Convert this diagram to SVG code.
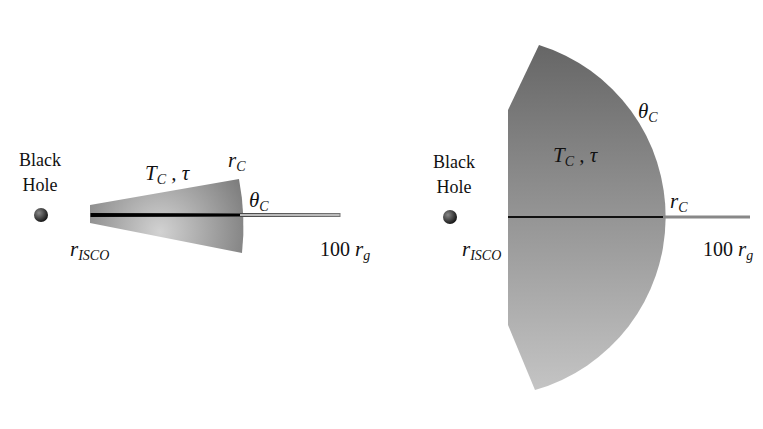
<svg xmlns="http://www.w3.org/2000/svg" width="763" height="429" viewBox="0 0 763 429">
<style>
text{font-family:"Liberation Serif","DejaVu Serif",serif;fill:#111}
.t{font-size:18px}
.m{font-size:21px;font-style:italic}
.s{font-size:14px;font-style:italic}
</style>
<defs>
<radialGradient id="rg" cx="160" cy="232" r="110" gradientUnits="userSpaceOnUse">
<stop offset="0" stop-color="#d2d2d2"/><stop offset="1" stop-color="#6e6e6e"/>
</radialGradient>
<linearGradient id="lg" x1="0" y1="45" x2="0" y2="390" gradientUnits="userSpaceOnUse">
<stop offset="0" stop-color="#666"/><stop offset="1" stop-color="#c4c4c4"/>
</linearGradient>
<linearGradient id="ln" x1="90" y1="0" x2="340" y2="0" gradientUnits="userSpaceOnUse">
<stop offset="0" stop-color="#000"/><stop offset="1" stop-color="#777"/>
</linearGradient>
<radialGradient id="bh" cx="0.35" cy="0.35" r="0.7"><stop offset="0" stop-color="#888"/><stop offset="1" stop-color="#111"/></radialGradient>
</defs>
<g id="left">
<circle cx="41" cy="215" r="7" fill="url(#bh)"/>
<text class="t" x="40" y="166" text-anchor="middle">Black</text>
<text class="t" x="40" y="191" text-anchor="middle">Hole</text>
<path d="M90,205 L239,179 Q246,216 242,253 L90,223 Z" fill="url(#rg)"/>
<rect x="91" y="213.5" width="249" height="3" fill="#bbb" stroke="url(#ln)" stroke-width="1"/>
<line x1="91" y1="215" x2="240" y2="215" stroke="#000" stroke-width="2"/>
<text class="m" x="145" y="180">T<tspan class="s" dy="4">C</tspan><tspan dy="-4"> , τ</tspan></text>
<text class="m" x="228" y="167">r<tspan class="s" dy="4">C</tspan></text>
<text class="m" x="249" y="207">θ<tspan class="s" dy="4">C</tspan></text>
<text class="m" x="70" y="256">r<tspan class="s" dy="4">ISCO</tspan></text>
<text class="t" x="320" y="256" style="font-size:20px">100 <tspan class="m">r</tspan><tspan class="s" dy="4">g</tspan></text>
</g>
<g id="right">
<circle cx="450" cy="217" r="7" fill="url(#bh)"/>
<text class="t" x="454" y="168" text-anchor="middle">Black</text>
<text class="t" x="454" y="193" text-anchor="middle">Hole</text>
<path d="M539,45 A180,180 0 0 1 535,390 L508,325 L508,110 Z" fill="url(#lg)"/>
<line x1="508" y1="217" x2="663" y2="217" stroke="#111" stroke-width="2"/>
<line x1="663" y1="217" x2="750" y2="217" stroke="#888" stroke-width="3"/>
<text class="m" x="553" y="162">T<tspan class="s" dy="4">C</tspan><tspan dy="-4"> , τ</tspan></text>
<text class="m" x="638" y="118">θ<tspan class="s" dy="4">C</tspan></text>
<text class="m" x="670" y="208">r<tspan class="s" dy="4">C</tspan></text>
<text class="m" x="462" y="256">r<tspan class="s" dy="4">ISCO</tspan></text>
<text class="t" x="703" y="256" style="font-size:20px">100 <tspan class="m">r</tspan><tspan class="s" dy="4">g</tspan></text>
</g>
</svg>
